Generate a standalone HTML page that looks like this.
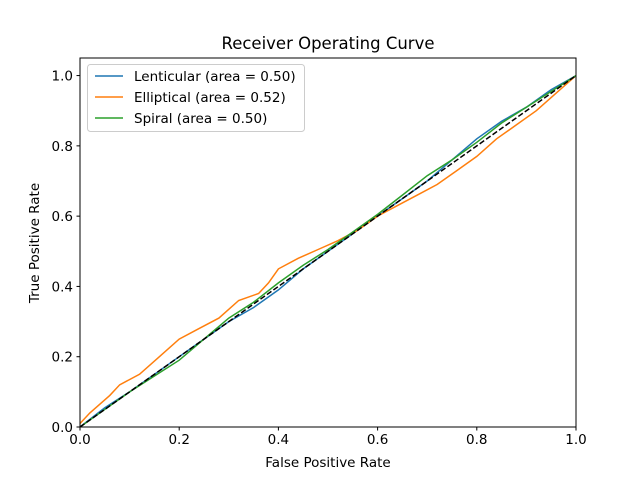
<!DOCTYPE html>
<html><head><meta charset="utf-8"><style>
body{margin:0;background:#fff}
svg text{font-family:"DejaVu Sans","Liberation Sans",sans-serif}
</style></head><body>
<svg id="c" width="640" height="480" xmlns="http://www.w3.org/2000/svg"></svg>
<script>
const xTicks=[0,0.2,0.4,0.6,0.8,1.0];
const xTickLabels=["0.0","0.2","0.4","0.6","0.8","1.0"];
const yTicks=[0,0.2,0.4,0.6,0.8,1.0];
const yTickLabels=["0.0","0.2","0.4","0.6","0.8","1.0"];
const seriesNames=["Lenticular (area = 0.50)","Elliptical (area = 0.52)","Spiral (area = 0.50)"];
const seriesColors=["#1f77b4","#ff7f0e","#2ca02c"];
const lentX=[0,0.05,0.1,0.15,0.2,0.25,0.3,0.35,0.4,0.45,0.5,0.55,0.6,0.65,0.7,0.75,0.8,0.85,0.9,0.95,1];
const lentY=[0,0.055,0.1,0.15,0.2,0.25,0.3,0.34,0.39,0.45,0.5,0.55,0.6,0.65,0.7,0.76,0.82,0.87,0.91,0.96,1];
const ellX=[0,0.02,0.06,0.08,0.12,0.16,0.2,0.24,0.28,0.32,0.36,0.38,0.4,0.44,0.48,0.52,0.56,0.6,0.64,0.68,0.72,0.76,0.8,0.84,0.88,0.92,0.96,1];
const ellY=[0.01,0.04,0.09,0.12,0.15,0.2,0.25,0.28,0.31,0.36,0.38,0.41,0.45,0.48,0.505,0.53,0.56,0.6,0.63,0.66,0.69,0.73,0.77,0.82,0.86,0.9,0.95,1];
const spirX=[0,0.05,0.1,0.15,0.2,0.25,0.3,0.35,0.4,0.45,0.5,0.55,0.6,0.65,0.7,0.75,0.8,0.85,0.9,0.95,1];
const spirY=[0,0.05,0.1,0.145,0.19,0.25,0.31,0.355,0.41,0.46,0.505,0.555,0.605,0.66,0.715,0.76,0.81,0.865,0.91,0.955,1];
const L=80,R=576,T=58,B=427;
const sx=v=>L+v*(R-L), sy=v=>B-v/1.05*(B-T);
const svg=document.getElementById('c'),NS='http://www.w3.org/2000/svg';
function mk(t,a,p){const e=document.createElementNS(NS,t);for(const k in a)e.setAttribute(k,a[k]);(p||svg).appendChild(e);return e;}
function txt(s,a){const e=mk('text',a);e.textContent=s;return e;}
function line(xs,ys,color,name,dash){
 const d=xs.map((x,i)=>(i?'L':'M')+sx(x).toFixed(1)+','+sy(ys[i]).toFixed(1)).join('');
 const p=mk('path',{d:d,fill:'none',stroke:color,'stroke-width':1.5});
 if(dash)p.setAttribute('stroke-dasharray',dash);
 
 
}
line(lentX,lentY,seriesColors[0],'lenticular-line');
line(ellX,ellY,seriesColors[1],'elliptical-line');
line(spirX,spirY,seriesColors[2],'spiral-line');
line([0,1],[0,1],'#000','chance-diagonal','5.5,2.4');
const fr=mk('rect',{x:L,y:T,width:R-L,height:B-T,fill:'none',stroke:'#000','stroke-width':1});

xTicks.forEach((v,i)=>{mk('line',{x1:sx(v),x2:sx(v),y1:B,y2:B+3.5,stroke:'#000'});
 const t=txt(xTickLabels[i],{x:sx(v),y:B+17,'text-anchor':'middle','font-size':13.5});
 });
yTicks.forEach((v,i)=>{mk('line',{x1:L-3.5,x2:L,y1:sy(v),y2:sy(v),stroke:'#000'});
 const t=txt(yTickLabels[i],{x:L-7,y:sy(v)+5,'text-anchor':'end','font-size':13.5});
 });
let t=txt('Receiver Operating Curve',{x:328,y:49,'text-anchor':'middle','font-size':16.5});

t=txt('False Positive Rate',{x:328,y:467,'text-anchor':'middle','font-size':13.5});

t=txt('True Positive Rate',{x:39,y:243,'text-anchor':'middle','font-size':13.5,transform:'rotate(-90 39 243)'});

const lg=mk('g',{});
mk('rect',{x:87.5,y:64.5,width:217,height:67,rx:3,fill:'#fff','fill-opacity':0.8,stroke:'#ccc'},lg);
seriesNames.forEach((n,i)=>{const y=76+i*21;
 const g=mk('g',{},lg);
 mk('line',{x1:95,x2:123,y1:y,y2:y,stroke:seriesColors[i],'stroke-width':1.5},g);
 const tt=txt(n,{x:134,y:y+5,'font-size':13.5});g.appendChild(tt);});
</script>
</body></html>
